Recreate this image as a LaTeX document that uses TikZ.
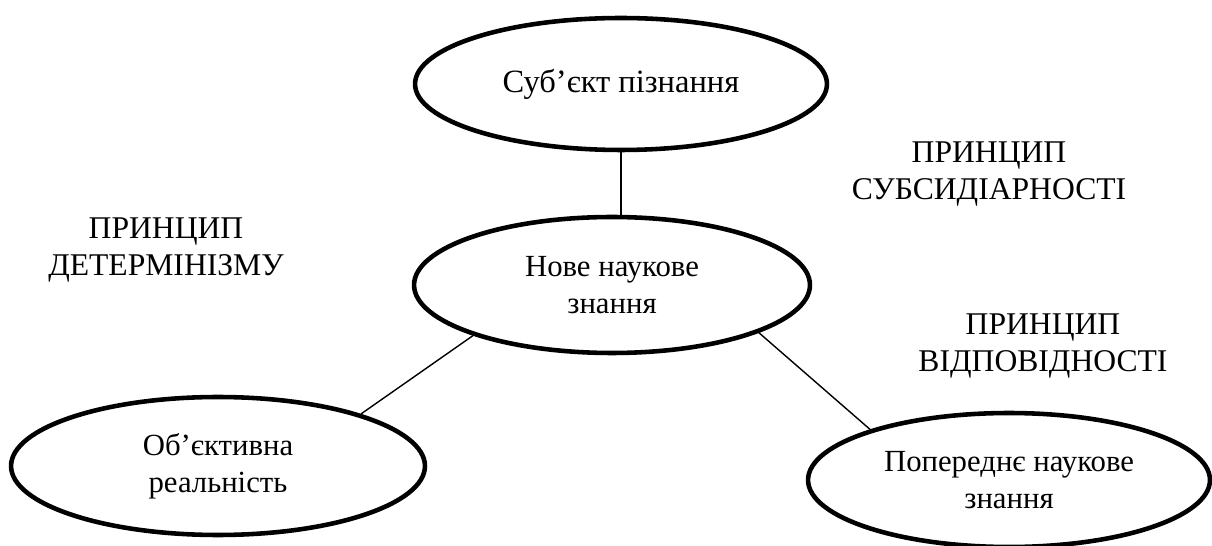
\documentclass[tikz,border=0pt]{standalone}
\usepackage{fontspec}
\setmainfont{Liberation Serif}
\usetikzlibrary{shapes.geometric}
\tikzset{
  idea/.style={draw, ellipse, line width=2.6pt, inner sep=0pt, align=center,
    font=\fontsize{17.5}{21}\selectfont},
  principle/.style={align=center, font=\fontsize{18}{21}\selectfont},
  link/.style={line width=0.8pt}
}
\begin{document}
\begin{tikzpicture}[x=0.02cm,y=-0.02cm]
	\useasboundingbox (0,0) rectangle (1212,546);
	\node[idea, minimum width=8.24cm, minimum height=2.64cm, font=\fontsize{18.5}{21}\selectfont] (subject) at (621,84) {Суб’єкт пізнання};%top
	\node[idea, minimum width=7.92cm, minimum height=2.72cm] (newknow) at (612,285) {Нове наукове\\знання};%centre
	\node[idea, minimum width=8.28cm, minimum height=2.76cm] (reality) at (218,466) {Об’єктивна\\реальність};%left
	\node[idea, minimum width=8.04cm, minimum height=2.68cm] (oldknow) at (1009,480) {Попереднє наукове\\знання};%right

	\draw[link] (subject.south) -- (subject.south |- newknow.north);
	\draw[link] (newknow.200) -- (reality.20);
	\draw[link] (newknow.342) -- (oldknow.160);

	\node[principle] (determ) at (166,250) {ПРИНЦИП\\ДЕТЕРМІНІЗМУ};
	\node[principle] (subsid) at (989,174) {ПРИНЦИП\\СУБСИДІАРНОСТІ};
	\node[principle] (corresp) at (1043,346) {ПРИНЦИП\\ВІДПОВІДНОСТІ};
\end{tikzpicture}
\end{document}
